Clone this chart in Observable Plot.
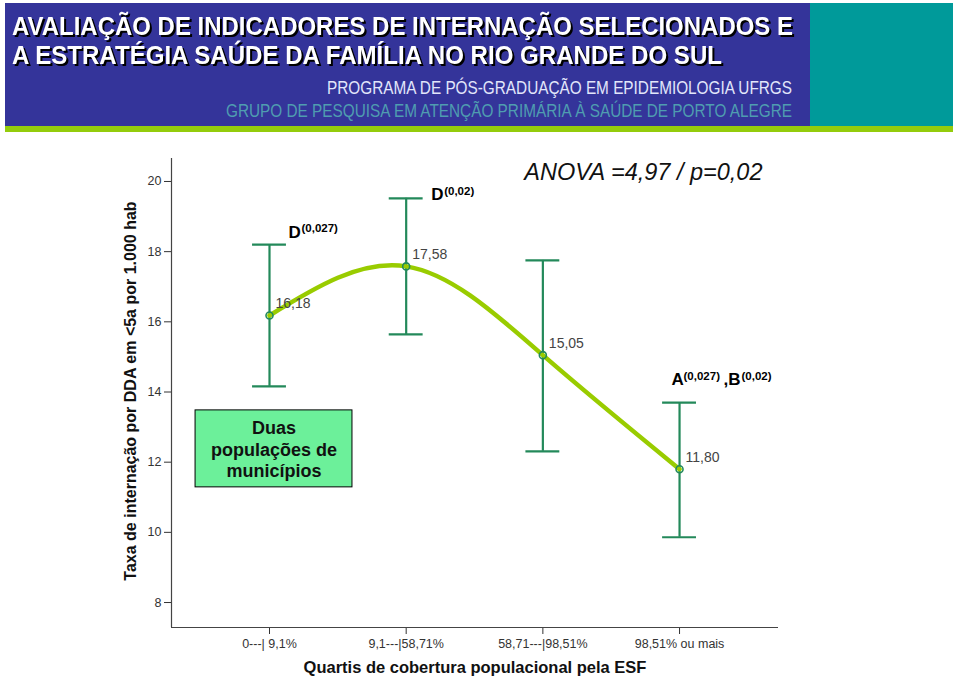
<!DOCTYPE html>
<html><head><meta charset="utf-8">
<script src="https://cdn.jsdelivr.net/npm/d3@7"></script>
<script src="https://cdn.jsdelivr.net/npm/@observablehq/plot@0.6"></script>
<style>
body{margin:0;background:#fff;width:960px;height:678px;overflow:hidden;font-family:"Liberation Sans",Arial,sans-serif;}
#header svg,#chart svg{display:block;}
</style></head><body>
<div id="header"></div>
<div id="chart"></div>
<script>
// ---- data ----
const categories = ["0---| 9,1%", "9,1---|58,71%", "58,71---|98,51%", "98,51% ou mais"];
const means = [16.18, 17.58, 15.05, 11.80];
const lower = [14.16, 15.64, 12.31, 9.86];
const upper = [18.20, 19.52, 17.75, 13.70];
const meanLabels = ["16,18", "17,58", "15,05", "11,80"];
const yTicks = [8, 10, 12, 14, 16, 18, 20];
const xTitle = "Quartis de cobertura populacional pela ESF";
const yTitle = "Taxa de internação por DDA em <5a por 1.000 hab";
const anovaText = "ANOVA =4,97 / p=0,02";
const noteLines = ["Duas", "populações de", "municípios"];
const titleLines = ["AVALIAÇÃO DE INDICADORES DE INTERNAÇÃO SELECIONADOS E", "A ESTRATÉGIA SAÚDE DA FAMÍLIA NO RIO GRANDE DO SUL"];
const subtitleLines = ["PROGRAMA DE PÓS-GRADUAÇÃO EM EPIDEMIOLOGIA UFRGS", "GRUPO DE PESQUISA EM ATENÇÃO PRIMÁRIA À SAÚDE DE PORTO ALEGRE"];

// ---- header banner ----
const header = d3.select("#header").append("svg").attr("width", 960).attr("height", 132);
header.append("rect").attr("x", 5).attr("y", 3).attr("width", 805).attr("height", 123).attr("fill", "#34349a");
header.append("rect").attr("x", 810).attr("y", 3).attr("width", 143).attr("height", 123).attr("fill", "#009a9a");
header.append("rect").attr("x", 5).attr("y", 126).attr("width", 948).attr("height", 6).attr("fill", "#94cc0c");
const titleLen = [781, 710];
titleLines.forEach((t, k) => {
  header.append("text").attr("x", 12).attr("y", 35 + k * 29)
    .attr("fill", "#fff").attr("font-family", "'Liberation Sans Narrow','Liberation Sans',Arial,sans-serif")
    .attr("font-weight", "bold").attr("font-size", 25)
    .style("filter", "drop-shadow(2px 2px 0 #000)")
    .attr("textLength", titleLen[k]).attr("lengthAdjust", "spacingAndGlyphs").text(t);
});
const subLen = [465, 566];
const subFill = ["#e2e6fb", "#4f9db0"];
subtitleLines.forEach((t, k) => {
  header.append("text").attr("x", 792 - subLen[k]).attr("y", 94 + k * 23)
    .attr("fill", subFill[k]).attr("font-family", "'Liberation Sans Narrow','Liberation Sans',Arial,sans-serif")
    .attr("font-size", 18)
    .attr("textLength", subLen[k]).attr("lengthAdjust", "spacingAndGlyphs").text(t);
});

// ---- chart ----
const rows = categories.map((c, i) => ({i, cat: c, mean: means[i], lo: lower[i], hi: upper[i], label: meanLabels[i]}));
const xDomain = [-0.717, 3.724];
const yDomain = [7.288, 20.655];
const barGreen = "#23895a";
const lineGreen = "#99cc00";
const capHalf = 0.124;
const note = {x1: -0.541, x2: 0.607, y1: 11.282, y2: 13.476, text: noteLines.join("\n")};
const boldSup = {fontWeight: "bold", fill: "#000", textAnchor: "start"};

const chart = Plot.plot({
  width: 960,
  height: 546,
  marginLeft: 171,
  marginRight: 182,
  marginTop: 26,
  marginBottom: 51,
  style: {fontFamily: "'Liberation Sans',Arial,sans-serif", fontSize: "12.5px", color: "#333", background: "#fff", overflow: "visible"},
  x: {domain: xDomain, ticks: [0, 1, 2, 3], tickFormat: i => categories[i], tickSize: 7, tickPadding: 5, label: null},
  y: {domain: yDomain, ticks: yTicks, tickFormat: d => String(d), tickSize: 7, tickPadding: 3, label: null},
  marks: [
    Plot.ruleX([xDomain[0]], {stroke: "#444", strokeWidth: 1.2}),
    Plot.ruleY([yDomain[0]], {stroke: "#444", strokeWidth: 1.2}),
    // error bars
    Plot.ruleX(rows, {x: "i", y1: "lo", y2: "hi", stroke: barGreen, strokeWidth: 2.2}),
    Plot.ruleY(rows, {y: "hi", x1: d => d.i - capHalf, x2: d => d.i + capHalf, stroke: barGreen, strokeWidth: 2.2}),
    Plot.ruleY(rows, {y: "lo", x1: d => d.i - capHalf, x2: d => d.i + capHalf, stroke: barGreen, strokeWidth: 2.2}),
    // mean curve
    Plot.line(rows, {x: "i", y: "mean", curve: "natural", stroke: lineGreen, strokeWidth: 4.5}),
    Plot.dot(rows, {x: "i", y: "mean", r: 3.5, stroke: barGreen, strokeWidth: 1.6, fill: "none"}),
    Plot.text(rows, {x: "i", y: "mean", text: "label", dx: 6, dy: -12, textAnchor: "start", fontSize: 14, fill: "#444"}),
    // significance annotations
    Plot.text([rows[0]], {x: "i", y: "hi", text: () => "D", dx: 19, dy: -12.5, fontSize: 17, ...boldSup}),
    Plot.text([rows[0]], {x: "i", y: "hi", text: () => "(0,027)", dx: 32, dy: -16, fontSize: 11.5, ...boldSup}),
    Plot.text([rows[1]], {x: "i", y: "hi", text: () => "D", dx: 25, dy: -3.5, fontSize: 17, ...boldSup}),
    Plot.text([rows[1]], {x: "i", y: "hi", text: () => "(0,02)", dx: 38, dy: -7, fontSize: 11.5, ...boldSup}),
    Plot.text([rows[3]], {x: "i", y: "hi", text: () => "A", dx: -8, dy: -22.5, fontSize: 17, ...boldSup}),
    Plot.text([rows[3]], {x: "i", y: "hi", text: () => "(0,027)", dx: 4, dy: -26, fontSize: 11.5, ...boldSup}),
    Plot.text([rows[3]], {x: "i", y: "hi", text: () => ",B", dx: 44, dy: -22.5, fontSize: 17, ...boldSup}),
    Plot.text([rows[3]], {x: "i", y: "hi", text: () => "(0,02)", dx: 62, dy: -26, fontSize: 11.5, ...boldSup}),
    // ANOVA
    Plot.text([anovaText], {frameAnchor: "top-right", text: d => d, dx: -16, dy: 5, textAnchor: "end", fontSize: 23.5, fontStyle: "italic", fill: "#111"}),
    // note box
    Plot.rect([note], {x1: "x1", x2: "x2", y1: "y1", y2: "y2", fill: "#6cf09a", stroke: "#000", strokeWidth: 1}),
    Plot.text([note], {x: d => (d.x1 + d.x2) / 2, y: d => (d.y1 + d.y2) / 2, text: "text", fontSize: 18, fontWeight: "bold", fill: "#111", lineHeight: 1.2}),
    // axis titles
    Plot.text([yTitle], {frameAnchor: "left", text: d => d, rotate: -90, textAnchor: "middle", dx: -41, dy: -2, fontSize: 16, fontWeight: "bold", fill: "#111"}),
    Plot.text([xTitle], {frameAnchor: "bottom", text: d => d, textAnchor: "middle", dy: 45, fontSize: 16.5, fontWeight: "bold", fill: "#111"})
  ]
});
document.getElementById("chart").appendChild(chart);
</script>
</body></html>
